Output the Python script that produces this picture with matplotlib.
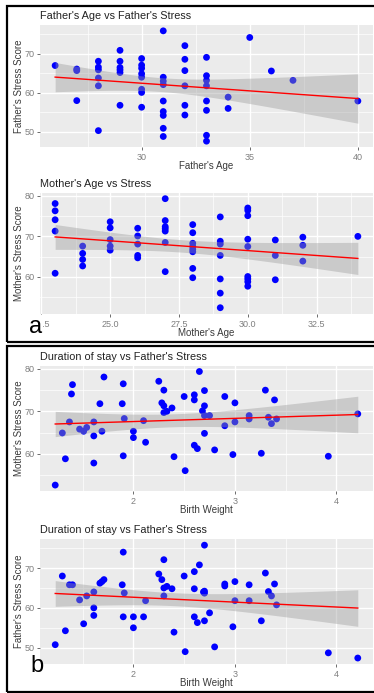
import numpy as np
import matplotlib
matplotlib.use('Agg')
import matplotlib.pyplot as plt
from matplotlib.patches import Rectangle

plt.rcParams['font.family'] = ['Liberation Sans', 'DejaVu Sans']

W, H = 374, 693

# ---- data ----
father_age = [26, 27, 27, 27, 28, 28, 28, 28, 28, 28, 29, 29, 29, 29, 29, 29,
              30, 30, 30, 30, 30, 30, 30, 30, 31, 31, 31, 31, 31, 31, 31, 31, 31,
              32, 32, 32, 32, 32, 32, 33, 33, 33, 33, 33, 33, 33, 33,
              34, 34, 35, 36, 37, 40]
father_stress_a = [67.0, 66.1, 65.7, 58.0, 68.1, 66.6, 65.9, 63.8, 61.8, 50.3,
                   70.9, 68.1, 66.5, 65.9, 65.2, 56.8,
                   68.8, 67.1, 66.3, 64.9, 64.0, 60.9, 60.1, 56.3,
                   75.9, 64.0, 63.0, 62.1, 57.9, 55.2, 54.2, 50.9, 48.8,
                   72.1, 68.6, 65.7, 61.8, 56.8, 54.3,
                   69.1, 64.4, 63.2, 61.8, 57.9, 55.5, 49.1, 47.6,
                   58.9, 56.0, 74.2, 65.6, 63.2, 57.9]

mother_age = [23, 23, 23, 23, 23, 24, 24, 24, 24, 25, 25, 25, 25, 25,
              26, 26, 26, 26, 26, 27, 27, 27, 27, 27, 27, 27,
              28, 28, 28, 28, 28, 28, 28, 28, 29, 29, 29, 29, 29, 29, 29,
              30, 30, 30, 30, 30, 30, 30, 30, 30, 31, 31, 31, 32, 32, 32, 34]
mother_stress_a = [78.1, 76.3, 74.1, 71.3, 60.9, 67.6, 65.8, 64.3, 62.7,
                   73.6, 72.1, 69.2, 67.6, 66.6,
                   72.0, 70.1, 68.1, 65.3, 64.7,
                   79.3, 73.9, 72.4, 71.9, 71.3, 68.5, 61.3,
                   72.9, 70.9, 68.3, 67.5, 66.8, 66.2, 62.1, 59.8,
                   74.8, 68.8, 68.1, 65.3, 59.5, 56.0, 52.4,
                   77.0, 76.4, 75.1, 69.3, 67.5, 60.1, 59.5, 58.8, 57.7,
                   69.1, 65.3, 59.3, 69.8, 67.8, 63.9, 70.0]

birth_weight_m = [1.23, 1.30, 1.33, 1.37, 1.39, 1.40, 1.47, 1.51, 1.54, 1.61, 1.61,
                  1.61, 1.67, 1.69, 1.71, 1.89, 1.90, 1.91, 1.90, 2.00, 2.00, 2.10,
                  2.12, 2.25, 2.28, 2.30, 2.30, 2.30, 2.33, 2.38, 2.40, 2.50, 2.51,
                  2.60, 2.60, 2.60, 2.63, 2.65, 2.68, 2.70, 2.70, 2.70, 2.70, 2.75,
                  2.80, 2.90, 2.90, 2.98, 3.00, 3.00, 3.14, 3.14, 3.26, 3.30, 3.33,
                  3.36, 3.39, 3.41, 3.92, 4.21]
mother_stress_b = [52.6, 64.9, 58.8, 67.5, 74.1, 76.3, 65.8, 65.3, 66.2, 67.5, 64.2,
                   57.8, 71.8, 65.3, 78.1, 71.8, 76.5, 68.3, 59.5, 65.3, 63.8, 67.8,
                   62.7, 77.1, 72.0, 75.0, 71.3, 69.7, 70.0, 70.8, 59.3, 73.5, 56.0,
                   73.9, 72.7, 62.0, 61.2, 79.4, 70.1, 74.9, 71.3, 69.0, 64.8, 69.0,
                   60.9, 73.5, 66.6, 59.8, 72.0, 67.5, 69.0, 68.2, 60.1, 75.0, 68.6,
                   67.1, 72.7, 68.2, 59.4, 69.4]

birth_weight_f = [1.23, 1.30, 1.33, 1.37, 1.40, 1.47, 1.51, 1.54, 1.61, 1.61, 1.61,
                  1.67, 1.69, 1.71, 1.89, 1.90, 1.91, 1.90, 2.00, 2.00, 2.10, 2.12,
                  2.25, 2.28, 2.30, 2.30, 2.30, 2.33, 2.38, 2.40, 2.50, 2.51, 2.60,
                  2.60, 2.60, 2.63, 2.65, 2.69, 2.70, 2.70, 2.70, 2.70, 2.75, 2.80,
                  2.90, 2.90, 2.98, 3.00, 3.00, 3.14, 3.14, 3.26, 3.30, 3.33, 3.36,
                  3.39, 3.41, 3.92, 4.21]
father_stress_b = [50.75, 68.0, 54.25, 65.8, 65.8, 62.0, 56.0, 63.0, 64.0, 60.0, 58.1,
                   66.2, 66.6, 67.1, 65.8, 74.0, 63.75, 57.75, 57.75, 55.0, 57.75, 61.8,
                   68.5, 67.1, 72.1, 65.0, 63.0, 65.4, 64.8, 53.9, 68.0, 49.0, 69.1,
                   64.8, 57.75, 56.3, 70.8, 64.0, 75.75, 64.2, 63.7, 56.75, 58.75, 50.2,
                   66.0, 65.5, 55.25, 66.6, 61.8, 65.8, 61.8, 56.75, 68.75, 64.1, 63.0,
                   66.0, 60.75, 48.7, 47.4]

# ---- style ----
PANEL_BG = '#EBEBEB'
TICK_COL = '#7F7F7F'
LABEL_COL = '#3A3A3A'
T_CRIT = 2.0  # ~ t(0.975, n-2) for n around 55


def px_box(x0, y0, x1, y1):
    """pixel box (top-left origin) -> figure fraction rect"""
    return [x0 / W, 1 - y1 / H, (x1 - x0) / W, (y1 - y0) / H]


def lm_band(x, y, xs):
    x = np.asarray(x, float)
    y = np.asarray(y, float)
    b, a = np.polyfit(x, y, 1)
    n = len(x)
    resid = y - (a + b * x)
    s = np.sqrt(np.sum(resid ** 2) / (n - 2))
    sxx = np.sum((x - x.mean()) ** 2)
    fit = a + b * xs
    se = s * np.sqrt(1 / n + (xs - x.mean()) ** 2 / sxx)
    return fit, fit - T_CRIT * se, fit + T_CRIT * se


def gg_scatter(fig, box, x, y, title, xlabel, ylabel, xticks, xticklabels,
               xminor, yticks, yminor, xlim, ylim):
    ax = fig.add_axes(px_box(*box))
    ax.set_facecolor(PANEL_BG)
    for sp in ax.spines.values():
        sp.set_visible(False)

    ax.scatter(x, y, s=24, color='#0000FF', edgecolors='none', zorder=3)

    xs = np.linspace(min(x), max(x), 80)
    fit, lo, hi = lm_band(x, y, xs)
    ax.fill_between(xs, lo, hi, color='#999999', alpha=0.4, lw=0, zorder=4)
    ax.plot(xs, fit, color='#FF0000', lw=1.0, zorder=5)

    ax.set_xlim(*xlim)
    ax.set_ylim(*ylim)
    ax.set_xticks(xticks)
    ax.set_xticklabels(xticklabels)
    ax.set_xticks(xminor, minor=True)
    ax.set_yticks(yticks)
    ax.set_yticks(yminor, minor=True)
    ax.grid(which='major', color='white', lw=1.0, zorder=0)
    ax.grid(which='minor', color='white', lw=0.5, zorder=0)
    ax.set_axisbelow(True)
    ax.tick_params(which='major', length=2.5, width=0.6, color='#555555',
                   labelsize=6.5, labelcolor=TICK_COL, pad=1.5)
    ax.tick_params(which='minor', length=0)

    ax.set_title(title, loc='left', fontsize=7.8, color='#222222', pad=4)
    ax.set_xlabel(xlabel, fontsize=7, color=LABEL_COL)
    ax.set_ylabel(ylabel, fontsize=7, color=LABEL_COL)
    h = box[3] - box[1]
    ax.xaxis.set_label_coords(0.5, -14 / h)
    ax.yaxis.set_label_coords(-21 / 333, 0.5)
    ax.xaxis.label.set_va('top')
    ax.yaxis.label.set_va('center')
    return ax


fig = plt.figure(figsize=(W / 100, H / 100), dpi=100)
fig.patch.set_facecolor('white')

# panel frames (right edge runs past the image)
for (y0, y1) in [(6, 342), (345.5, 691.5)]:
    fig.patches.append(Rectangle((7 / W, 1 - y1 / H), 400 / W, (y1 - y0) / H,
                                 transform=fig.transFigure, fill=False,
                                 edgecolor='black', lw=1.6, clip_on=False))

gg_scatter(fig, (40, 25, 373, 147), father_age, father_stress_a,
           "Father's Age vs Father's Stress", "Father's Age", "Father's Stress Score",
           [30, 35, 40], ['30', '35', '40'], [27.5, 32.5, 37.5],
           [50, 60, 70], [55, 65, 75], (25.3, 40.7), (46.1, 77.4))

gg_scatter(fig, (40, 193, 373, 314), mother_age, mother_stress_a,
           "Mother's Age vs Stress", "Mother's Age", "Mother's Stress Score",
           [22.5, 25.0, 27.5, 30.0, 32.5], ['22.5', '25.0', '27.5', '30.0', '32.5'],
           [23.75, 26.25, 28.75, 31.25, 33.75],
           [60, 70, 80], [55, 65, 75], (22.45, 34.55), (50.85, 80.7))

gg_scatter(fig, (40, 366, 373, 491), birth_weight_m, mother_stress_b,
           "Duration of stay vs Father's Stress", "Birth Weight", "Mother's Stress Score",
           [2, 3, 4], ['2', '3', '4'], [1.5, 2.5, 3.5],
           [60, 70, 80], [55, 65, 75], (1.08, 4.36), (51.2, 80.7))

gg_scatter(fig, (40, 539, 373, 664), birth_weight_f, father_stress_b,
           "Duration of stay vs Father's Stress", "Birth Weight", "Father's Stress Score",
           [2, 3, 4], ['2', '3', '4'], [1.5, 2.5, 3.5],
           [50, 60, 70], [55, 65, 75], (1.08, 4.36), (45.9, 77.3))

# panel letters sit on white, covering part of the first tick label as in the source
fig.text(29 / W, 1 - 333 / H, 'a', fontsize=17, color='black', ha='left', va='baseline',
         bbox=dict(facecolor='white', edgecolor='none', pad=0.5))
fig.text(30 / W, 1 - 672 / H, 'b', fontsize=17, color='black', ha='left', va='baseline')

fig.savefig('out.png', dpi=100)
